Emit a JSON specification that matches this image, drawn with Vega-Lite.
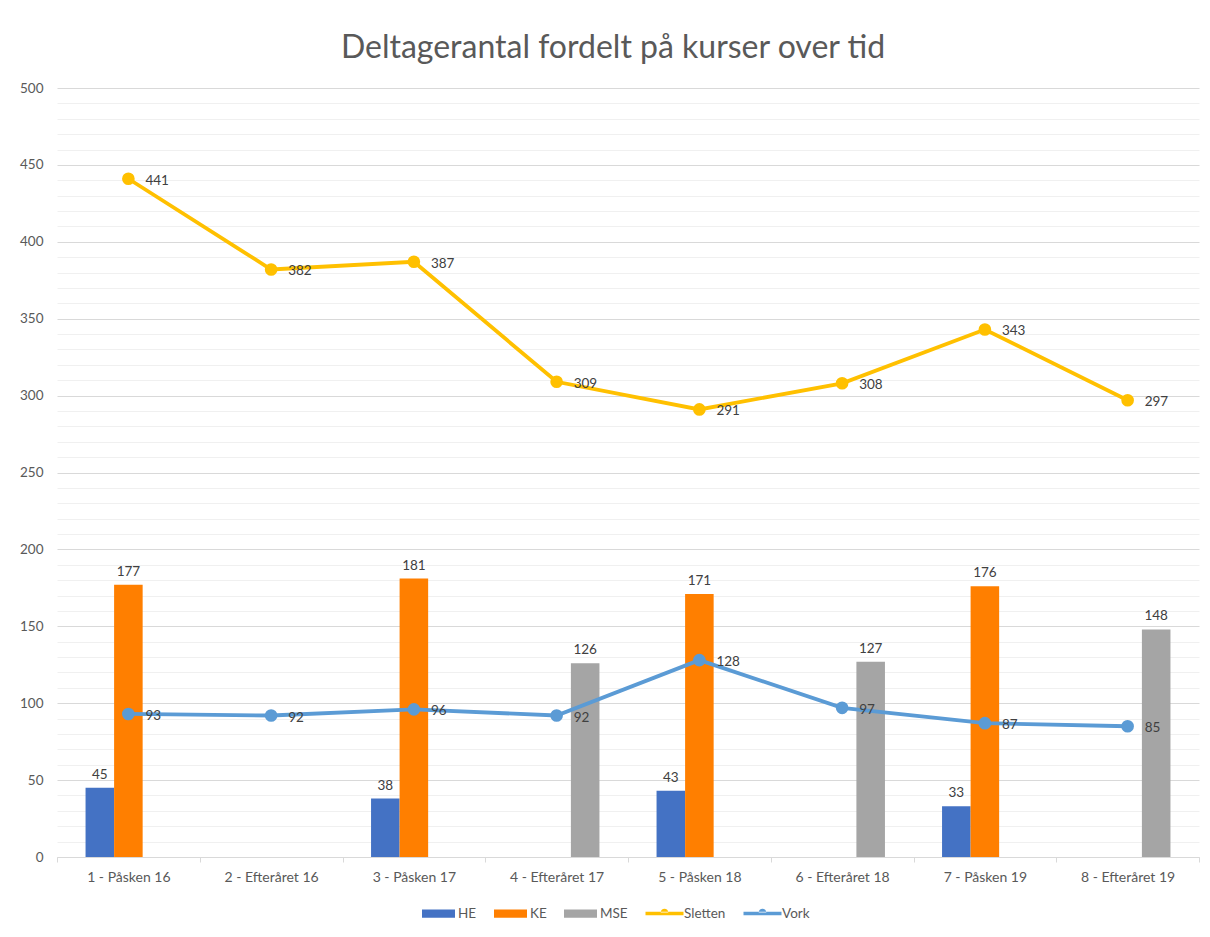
{
  "$schema": "https://vega.github.io/schema/vega-lite/v6.json",
  "autosize": {"type": "none"},
  "width": 1142,
  "height": 769,
  "padding": {"left": 57, "top": 88, "right": 11, "bottom": 80},
  "background": "white",
  "title": {
    "text": "Deltagerantal fordelt på kurser over tid",
    "font": "Lato",
    "fontSize": 32,
    "fontWeight": "normal",
    "color": "#595959",
    "anchor": "middle",
    "offset": 16,
    "dx": -15
  },
  "config": {
    "view": {"stroke": null},
    "font": "Lato",
    "axis": {"labelFont": "Lato", "labelColor": "#595959", "labelFontSize": 13.5, "title": null}
  },
  "data": {
    "values": [
      {"kursus": "1 - Påsken 16", "serie": "HE", "antal": 45},
      {"kursus": "1 - Påsken 16", "serie": "KE", "antal": 177},
      {"kursus": "1 - Påsken 16", "serie": "Sletten", "antal": 441},
      {"kursus": "1 - Påsken 16", "serie": "Vork", "antal": 93},
      {"kursus": "2 - Efteråret 16", "serie": "Sletten", "antal": 382},
      {"kursus": "2 - Efteråret 16", "serie": "Vork", "antal": 92},
      {"kursus": "3 - Påsken 17", "serie": "HE", "antal": 38},
      {"kursus": "3 - Påsken 17", "serie": "KE", "antal": 181},
      {"kursus": "3 - Påsken 17", "serie": "Sletten", "antal": 387},
      {"kursus": "3 - Påsken 17", "serie": "Vork", "antal": 96},
      {"kursus": "4 - Efteråret 17", "serie": "MSE", "antal": 126},
      {"kursus": "4 - Efteråret 17", "serie": "Sletten", "antal": 309},
      {"kursus": "4 - Efteråret 17", "serie": "Vork", "antal": 92},
      {"kursus": "5 - Påsken 18", "serie": "HE", "antal": 43},
      {"kursus": "5 - Påsken 18", "serie": "KE", "antal": 171},
      {"kursus": "5 - Påsken 18", "serie": "Sletten", "antal": 291},
      {"kursus": "5 - Påsken 18", "serie": "Vork", "antal": 128},
      {"kursus": "6 - Efteråret 18", "serie": "MSE", "antal": 127},
      {"kursus": "6 - Efteråret 18", "serie": "Sletten", "antal": 308},
      {"kursus": "6 - Efteråret 18", "serie": "Vork", "antal": 97},
      {"kursus": "7 - Påsken 19", "serie": "HE", "antal": 33},
      {"kursus": "7 - Påsken 19", "serie": "KE", "antal": 176},
      {"kursus": "7 - Påsken 19", "serie": "Sletten", "antal": 343},
      {"kursus": "7 - Påsken 19", "serie": "Vork", "antal": 87},
      {"kursus": "8 - Efteråret 19", "serie": "MSE", "antal": 148},
      {"kursus": "8 - Efteråret 19", "serie": "Sletten", "antal": 297},
      {"kursus": "8 - Efteråret 19", "serie": "Vork", "antal": 85}
    ]
  },
  "encoding": {
    "x": {
      "field": "kursus",
      "type": "nominal",
      "sort": null,
      "scale": {
        "domain": ["1 - Påsken 16", "2 - Efteråret 16", "3 - Påsken 17", "4 - Efteråret 17", "5 - Påsken 18", "6 - Efteråret 18", "7 - Påsken 19", "8 - Efteråret 19"],
        "paddingInner": 0,
        "paddingOuter": 0
      },
      "axis": {
        "labelAngle": 0,
        "tickBand": "extent",
        "domainColor": "#d9d9d9",
        "tickColor": "#d9d9d9",
        "tickSize": 5,
        "labelPadding": 8,
        "labelFontSize": 14,
        "grid": false
      }
    },
    "y": {
      "field": "antal",
      "type": "quantitative",
      "scale": {"domain": [0, 500], "nice": false},
      "axis": {
        "values": [0,10,20,30,40,50,60,70,80,90,100,110,120,130,140,150,160,170,180,190,200,210,220,230,240,250,260,270,280,290,300,310,320,330,340,350,360,370,380,390,400,410,420,430,440,450,460,470,480,490,500],
        "labelExpr": "datum.value % 50 === 0 ? datum.label : ''",
        "domain": false,
        "ticks": false,
        "tickSize": 0,
        "labelPadding": 14,
        "grid": true,
        "gridColor": {"condition": {"test": "datum.value % 50 === 0", "value": "#d9d9d9"}, "value": "#f0f0f0"},
        "gridWidth": 1
      }
    },
    "color": {
      "field": "serie",
      "type": "nominal",
      "scale": {
        "domain": ["HE", "KE", "MSE", "Sletten", "Vork"],
        "range": ["#4472C4", "#FF7F00", "#A5A5A5", "#FFC000", "#5B9BD5"]
      },
      "legend": null
    }
  },
  "layer": [
    {
      "transform": [{"filter": "datum.serie === 'HE' || datum.serie === 'KE' || datum.serie === 'MSE'"}],
      "layer": [
        {
          "mark": {"type": "bar"},
          "encoding": {
            "xOffset": {"field": "serie", "type": "nominal", "scale": {"domain": ["HE", "KE", "MSE"], "paddingInner": 0, "paddingOuter": 1.25}},
            "y": {"field": "antal", "type": "quantitative", "stack": null},
            "color": {
              "field": "serie",
              "type": "nominal",
              "legend": {
                "orient": "none",
                "direction": "horizontal",
                "legendX": 365,
                "legendY": 809,
                "title": null,
                "labelFont": "Lato",
                "labelFontSize": 13.5,
                "labelColor": "#595959",
                "symbolType": "M-1,-0.25H1V0.25H-1Z",
                "symbolSize": 1089,
                "symbolStrokeWidth": 0,
                "labelOffset": 3,
                "columnPadding": 17,
                "encode": {
                  "symbols": {
                    "update": {
                      "shape": {"signal": "(datum.value === 'Sletten' || datum.value === 'Vork') ? 'M-1,-0.09H1V0.09H-1Z M0.2,-0.05 A0.2,0.2 0 1,0 -0.2,-0.05 Z' : 'M-1,-0.25H1V0.25H-1Z'"},
                      "size": {"signal": "(datum.value === 'Sletten' || datum.value === 'Vork') ? 1444 : 1089"}
                    }
                  }
                }
              }
            }
          }
        },
        {
          "mark": {"type": "text", "baseline": "bottom", "dy": -6, "font": "Lato", "fontSize": 13.5, "color": "#404040"},
          "encoding": {
            "xOffset": {"field": "serie", "type": "nominal", "scale": {"domain": ["HE", "KE", "MSE"], "paddingInner": 0, "paddingOuter": 1.25}},
            "y": {"field": "antal", "type": "quantitative", "stack": null},
            "text": {"field": "antal", "type": "quantitative"},
            "color": {"value": "#404040"}
          }
        }
      ]
    },
    {
      "transform": [{"filter": "datum.serie === 'Sletten' || datum.serie === 'Vork'"}],
      "layer": [
        {
          "mark": {"type": "line", "strokeWidth": 3.8, "point": {"size": 160, "filled": true}},
          "encoding": {
            "color": {"field": "serie", "type": "nominal", "legend": null}
          }
        },
        {
          "mark": {"type": "text", "align": "left", "baseline": "middle", "dx": 17, "dy": 2, "font": "Lato", "fontSize": 13.5},
          "encoding": {
            "text": {"field": "antal", "type": "quantitative"},
            "color": {"value": "#404040"}
          }
        }
      ]
    }
  ]
}
